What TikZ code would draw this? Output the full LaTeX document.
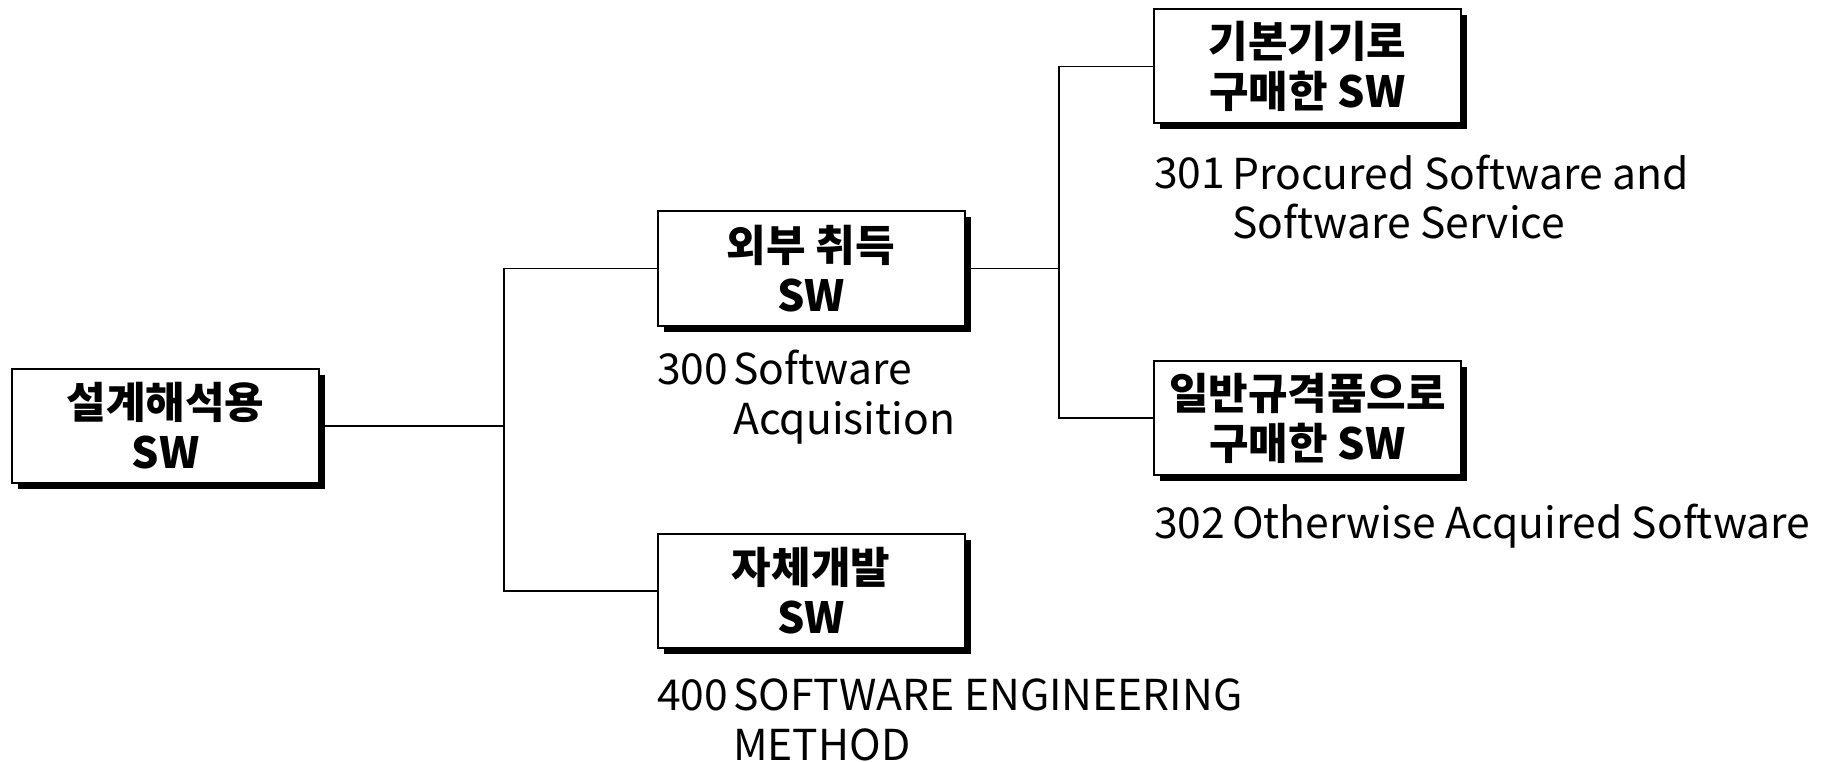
\documentclass[tikz,border=0pt]{standalone}
\usepackage{fontspec}
\setmainfont{Noto Sans CJK KR}
\usetikzlibrary{shadows}
\begin{document}
\begin{tikzpicture}[x=1pt,y=-1pt,
  box/.style={draw=black, line width=2pt, fill=white, minimum width=307pt, minimum height=114pt,
    inner sep=0pt, align=center, font=\fontsize{43}{50}\selectfont\bfseries,
    general shadow={fill=black, shadow xshift=6pt, shadow yshift=-6pt}},
  conn/.style={line width=1.6pt},
  num/.style={anchor=base west, inner sep=0pt, font=\fontsize{42.6}{50}\selectfont},
  lbl/.style={anchor=base west, inner sep=0pt, align=left, font=\fontsize{42.6}{50}\selectfont}]
\useasboundingbox (0,0) rectangle (1831,762);
\node[box] (b1) at (165.5,426) {설계해석용\\SW};
\node[box] (b2) at (811,268.5) {외부 취득\\SW};
\node[box] (b4) at (811,591) {자체개발\\SW};
\node[box] (b3) at (1307.5,66.5) {기본기기로\\구매한 SW};
\node[box] (b5) at (1307.5,418) {일반규격품으로\\구매한 SW};
\coordinate (j1) at (504,426);
\coordinate (j2) at (1059,268.5);
\draw[conn] (b1.east) -- (j1);
\draw[conn] (b2.west) -| (j1) |- (b4.west);
\draw[conn] (b2.east) -- (j2);
\draw[conn] (b3.west) -| (j2) |- (b5.west);
\node[num] (n300) at (657,384) {300};
\node[lbl] (t300) at (733,434) {Software\\Acquisition};
\node[num] (n301) at (1154,189) {301};
\node[lbl] (t301) at (1232,239) {Procured Software and\\Software Service};
\node[num] (n302) at (1154,538) {302};
\node[lbl] (t302) at (1232,538) {Otherwise Acquired Software};
\node[num] (n400) at (657,710) {400};
\node[lbl] (t400) at (733,760) {SOFTWARE ENGINEERING\\METHOD};
\end{tikzpicture}
\end{document}
